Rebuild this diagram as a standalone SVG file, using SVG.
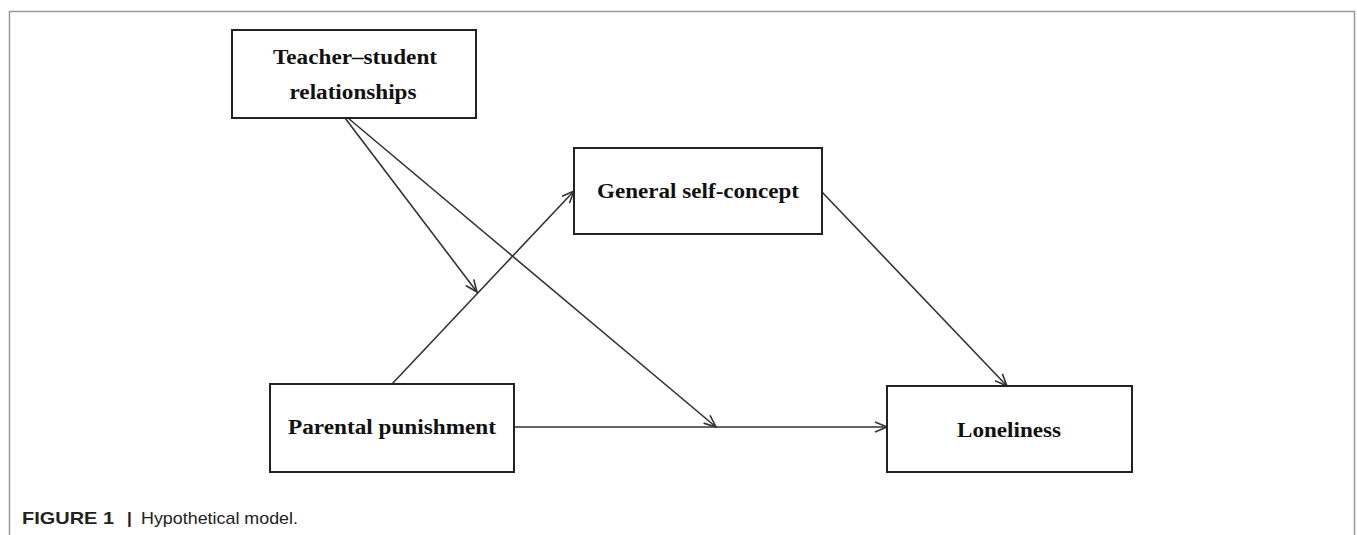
<svg xmlns="http://www.w3.org/2000/svg" width="1357" height="535" viewBox="0 0 1357 535">
<style>
.box{fill:#fff;stroke:#222;stroke-width:2}
.lbl{font-family:"Liberation Serif","Times New Roman",serif;font-weight:bold;font-size:20px;fill:#111;text-anchor:middle}
.edge{fill:none;stroke:#333;stroke-width:1.6}
.cap{font-family:"Liberation Sans",Arial,sans-serif;font-size:17px;fill:#222}
</style>
<defs>
<marker id="arr" viewBox="0 0 14 12" refX="13" refY="6" markerWidth="14" markerHeight="12" markerUnits="userSpaceOnUse" orient="auto">
<path d="M1,1 L13,6 L1,11" fill="none" stroke="#333" stroke-width="1.6"/>
</marker>
</defs>
<rect width="1357" height="535" fill="#fff"/>
<path d="M9.5,535 V11.5 H1354.5 V535" fill="none" stroke="#999" stroke-width="1.5"/>
<g id="connectors">
<line class="edge" x1="392" y1="384" x2="574" y2="191" marker-end="url(#arr)"/>
<line class="edge" x1="822" y1="192" x2="1007" y2="386" marker-end="url(#arr)"/>
<line class="edge" x1="514" y1="427" x2="887" y2="427" marker-end="url(#arr)"/>
<line class="edge" x1="345" y1="118" x2="477" y2="292" marker-end="url(#arr)"/>
<line class="edge" x1="348" y1="118" x2="716" y2="427" marker-end="url(#arr)"/>
</g>
<g id="teacher">
<rect class="box" x="232" y="30" width="244" height="88"/>
<text class="lbl" x="355" y="64" textLength="164" lengthAdjust="spacingAndGlyphs">Teacher–student</text>
<text class="lbl" x="353" y="99" textLength="127" lengthAdjust="spacingAndGlyphs">relationships</text>
</g>
<g id="selfconcept">
<rect class="box" x="574" y="148" width="248" height="86"/>
<text class="lbl" x="698" y="198" textLength="202" lengthAdjust="spacingAndGlyphs">General self-concept</text>
</g>
<g id="parental">
<rect class="box" x="270" y="384" width="244" height="88"/>
<text class="lbl" x="392" y="434" textLength="208" lengthAdjust="spacingAndGlyphs">Parental punishment</text>
</g>
<g id="loneliness">
<rect class="box" x="887" y="386" width="245" height="86"/>
<text class="lbl" x="1009" y="437" textLength="104" lengthAdjust="spacingAndGlyphs">Loneliness</text>
</g>
<g id="caption">
<text class="cap" x="22" y="524" font-weight="bold" textLength="92" lengthAdjust="spacingAndGlyphs">FIGURE 1</text>
<text class="cap" x="127" y="524" font-weight="bold">|</text>
<text class="cap" x="141" y="524" textLength="157" lengthAdjust="spacingAndGlyphs">Hypothetical model.</text>
</g>
</svg>
